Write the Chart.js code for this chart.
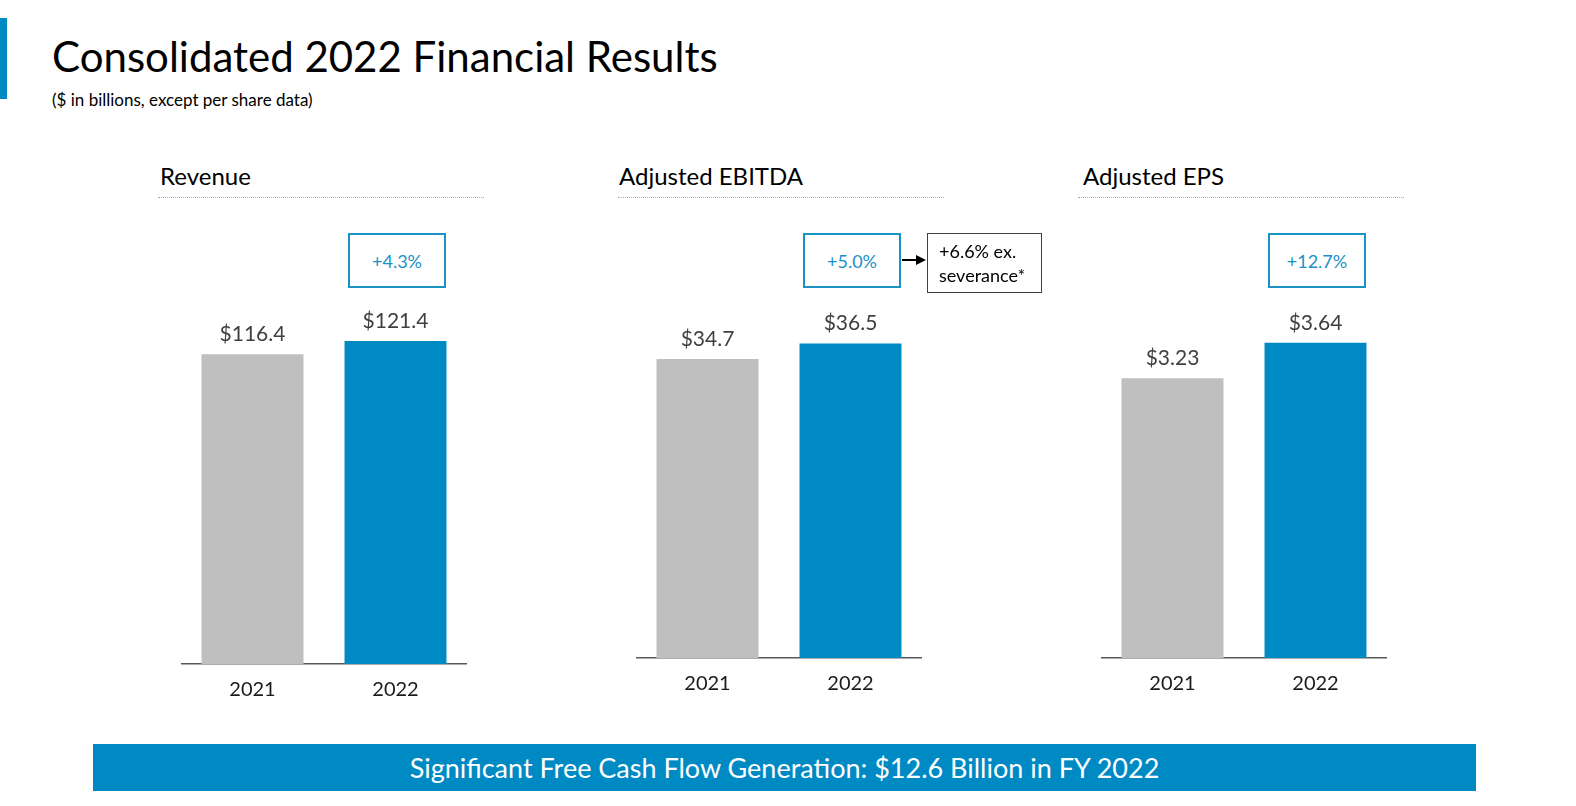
<!DOCTYPE html>
<html>
<head>
<meta charset="utf-8">
<script src="https://cdn.jsdelivr.net/npm/chart.js@4"></script>
<style>
  body { margin: 0; width: 1576px; height: 806px; background: #fff; position: relative; overflow: hidden;
         font-family: Lato, "Open Sans", sans-serif; }
  #accent { position: absolute; left: 0; top: 18px; width: 7px; height: 81px; background: #008ac4; }
  #title { position: absolute; left: 52px; top: 31px; margin: 0; font-size: 42px; font-weight: normal; color: #000; white-space: nowrap; }
  #subtitle { position: absolute; left: 52px; top: 89px; font-size: 17px; color: #000; white-space: nowrap; }
  .section { position: absolute; top: 161px; font-size: 24px; color: #000; white-space: nowrap; }
  .rule { position: absolute; top: 197px; width: 326px; border-top: 1px dotted #aaa; }
  .panel { position: absolute; top: 290px; width: 286px; }
  .growth { position: absolute; top: 233px; width: 94px; height: 51px; border: 2px solid #1b91c6; color: #1b91c6;
            font-size: 18px; display: flex; align-items: center; justify-content: center; background: #fff; }
  #note { position: absolute; left: 927px; top: 233px; width: 115px; height: 60px; border: 1px solid #404040;
          font-size: 18px; line-height: 24px; color: #000; box-sizing: border-box; padding: 5px 0 0 11px; white-space: nowrap; }
  #arrow { position: absolute; left: 902px; top: 259px; width: 16px; border-top: 2px solid #000; }
  #arrowHead { position: absolute; left: 916px; top: 255px; width: 0; height: 0; border-top: 5px solid transparent;
               border-bottom: 5px solid transparent; border-left: 10px solid #000; }
  #banner { position: absolute; left: 93px; top: 744px; width: 1383px; height: 47px; background: #008ac4; color: #fff;
            font-size: 27px; display: flex; align-items: center; justify-content: center; white-space: nowrap; }
</style>
</head>
<body>
<div id="accent"></div>
<h1 id="title">Consolidated 2022 Financial Results</h1>
<div id="subtitle">($ in billions, except per share data)</div>

<div class="section" style="left:160px">Revenue</div>
<div class="rule" style="left:158px"></div>
<div class="section" style="left:619px">Adjusted EBITDA</div>
<div class="rule" style="left:618px"></div>
<div class="section" style="left:1083px">Adjusted EPS</div>
<div class="rule" style="left:1078px"></div>

<div class="panel" style="left:181px; height:426px"><canvas id="revenueChart"></canvas></div>
<div class="panel" style="left:636px; height:420px"><canvas id="ebitdaChart"></canvas></div>
<div class="panel" style="left:1101px; height:420px"><canvas id="epsChart"></canvas></div>

<div class="growth" id="growth0" style="left:348px"></div>
<div class="growth" id="growth1" style="left:803px"></div>
<div class="growth" id="growth2" style="left:1268px"></div>
<div id="arrow"></div><div id="arrowHead"></div>
<div id="note">+6.6% ex.<br>severance*</div>

<div id="banner">Significant Free Cash Flow Generation: $12.6 Billion in FY 2022</div>

<script>
const years = ['2021', '2022'];
const revenue = [116.4, 121.4];
const ebitda = [34.7, 36.5];
const eps = [3.23, 3.64];
const revenueLabels = ['$116.4', '$121.4'];
const ebitdaLabels = ['$34.7', '$36.5'];
const epsLabels = ['$3.23', '$3.64'];
const growth = ['+4.3%', '+5.0%', '+12.7%'];

const barColors = ['#bfbfbf', '#008ac4'];

growth.forEach((g, i) => { document.getElementById('growth' + i).textContent = g; });

// draws the $ value above each bar
const valueLabels = {
  id: 'valueLabels',
  afterDatasetsDraw(chart, args, opts) {
    const ctx = chart.ctx;
    const meta = chart.getDatasetMeta(0);
    ctx.save();
    ctx.font = '21px Lato, "Open Sans", sans-serif';
    ctx.fillStyle = '#404040';
    ctx.textAlign = 'center';
    ctx.textBaseline = 'alphabetic';
    meta.data.forEach((bar, i) => {
      ctx.fillText(opts.labels[i], bar.x, bar.y - 13);
    });
    ctx.restore();
  }
};

function makeChart(id, values, labels, yMax) {
  const ctx = document.getElementById(id).getContext('2d');
  return new Chart(ctx, {
    type: 'bar',
    data: {
      labels: years,
      datasets: [{
        data: values,
        backgroundColor: barColors,
        borderWidth: 0,
        barPercentage: 0.713,
        categoryPercentage: 1
      }]
    },
    options: {
      responsive: true,
      maintainAspectRatio: false,
      animation: false,
      layout: { padding: 0 },
      scales: {
        x: {
          grid: { display: false, drawTicks: false },
          border: { display: true, color: '#595959', width: 1.5 },
          ticks: {
            padding: 14,
            color: '#1a1a1a',
            font: { family: 'Lato, "Open Sans", sans-serif', size: 20 }
          }
        },
        y: {
          display: false,
          min: 0,
          max: yMax
        }
      },
      plugins: {
        legend: { display: false },
        tooltip: { enabled: false },
        valueLabels: { labels: labels }
      }
    },
    plugins: [valueLabels]
  });
}

makeChart('revenueChart', revenue, revenueLabels, 140.6);
makeChart('ebitdaChart', ebitda, ebitdaLabels, 42.7);
makeChart('epsChart', eps, epsLabels, 4.25);
</script>
</body>
</html>
